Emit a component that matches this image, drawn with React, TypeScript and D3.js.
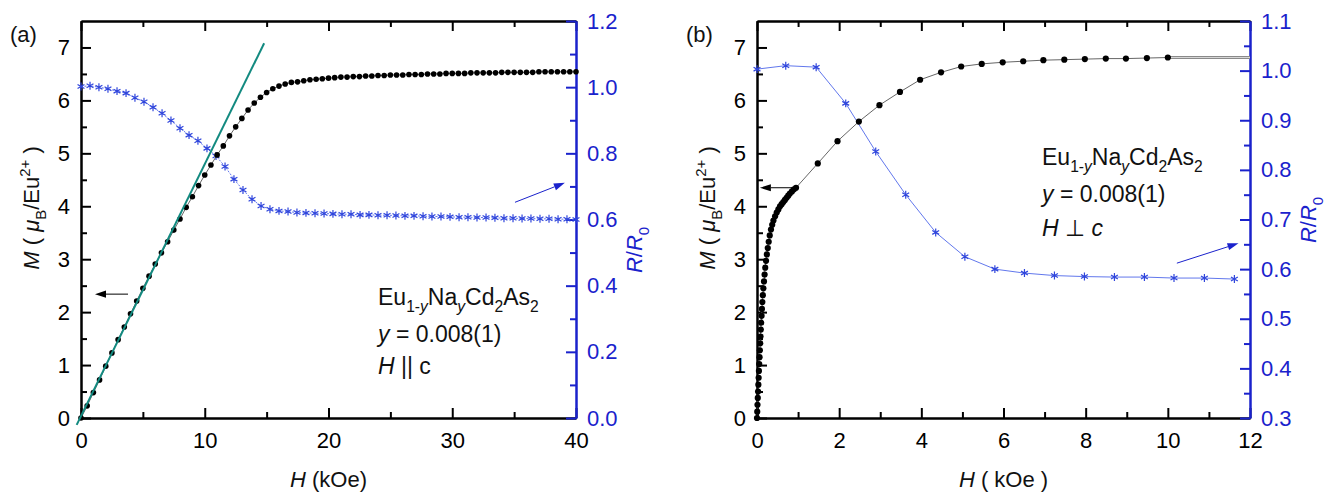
import * as d3 from "d3";
import { useEffect, useRef } from "react";

// ---- panel (a): H || c ----
const fieldA = [0, 0.5, 1, 1.5, 2, 2.5, 3, 3.5, 4, 4.5, 5, 5.5, 6, 6.5, 7, 7.5, 8, 8.5, 9, 9.5,
  10, 10.5, 11, 11.5, 12, 12.5, 13, 13.5, 14, 14.5, 15, 15.5, 16, 16.5, 17, 17.5, 18, 18.5, 19, 19.5,
  20, 20.5, 21, 21.5, 22, 22.5, 23, 23.5, 24, 24.5, 25, 25.5, 26, 26.5, 27, 27.5, 28, 28.5, 29, 29.5,
  30, 30.5, 31, 31.5, 32, 32.5, 33, 33.5, 34, 34.5, 35, 35.5, 36, 36.5, 37, 37.5, 38, 38.5, 39, 39.5, 40];
const momentA = [0.00, 0.23, 0.48, 0.72, 0.98, 1.23, 1.48, 1.72, 1.97, 2.21,
  2.45, 2.68, 2.91, 3.12, 3.33, 3.55, 3.76, 3.98, 4.18, 4.39,
  4.59, 4.78, 4.97, 5.14, 5.33, 5.50, 5.66, 5.82, 5.95, 6.06,
  6.15, 6.22, 6.27, 6.31, 6.34, 6.35, 6.37, 6.39, 6.40, 6.41,
  6.42, 6.43, 6.44, 6.44, 6.45, 6.45, 6.46, 6.46, 6.47, 6.47,
  6.48, 6.48, 6.48, 6.49, 6.49, 6.49, 6.50, 6.50, 6.50, 6.51,
  6.51, 6.51, 6.51, 6.52, 6.52, 6.52, 6.52, 6.52, 6.53, 6.53,
  6.53, 6.53, 6.53, 6.53, 6.54, 6.54, 6.54, 6.54, 6.54, 6.54, 6.54];
const resFieldA = [0, 0.73, 1.45, 2.18, 2.91, 3.64, 4.36, 5.09, 5.82, 6.55, 7.27, 8.0, 8.73, 9.45,
  10.18, 10.91, 11.64, 12.36, 13.09, 13.82, 14.55, 15.27, 16.0, 16.73, 17.45, 18.18, 18.91, 19.64,
  20.36, 21.09, 21.82, 22.55, 23.27, 24.0, 24.73, 25.45, 26.18, 26.91, 27.64, 28.36, 29.09, 29.82,
  30.55, 31.27, 32.0, 32.73, 33.45, 34.18, 34.91, 35.64, 36.36, 37.09, 37.82, 38.55, 39.27, 40.0];
const resA = [1.002, 1.004, 1.000, 0.995, 0.988, 0.982, 0.968, 0.956, 0.939, 0.921,
  0.899, 0.876, 0.855, 0.838, 0.815, 0.792, 0.760, 0.722, 0.689, 0.661,
  0.641, 0.631, 0.626, 0.624, 0.621, 0.620, 0.619, 0.618, 0.617, 0.616,
  0.616, 0.614, 0.614, 0.613, 0.613, 0.612, 0.611, 0.611, 0.610, 0.609,
  0.609, 0.608, 0.607, 0.607, 0.606, 0.606, 0.605, 0.604, 0.604, 0.603,
  0.603, 0.602, 0.602, 0.601, 0.601, 0.600];
// linear fit of the low field part
const fitH = [-0.35, 14.8];
const fitM = [-0.13, 7.08];

// ---- panel (b): H perp c ----
const fieldB = [0, 0.006, 0.012, 0.019, 0.026, 0.033, 0.04, 0.047, 0.054, 0.062, 0.07, 0.078, 0.086,
  0.094, 0.102, 0.111, 0.12, 0.13, 0.142, 0.155, 0.17, 0.185, 0.2, 0.22, 0.24, 0.262, 0.285, 0.31,
  0.34, 0.37, 0.4, 0.44, 0.48, 0.52, 0.56, 0.6, 0.64, 0.68, 0.72, 0.76, 0.8, 0.85, 0.9, 0.95,
  1.48, 1.96, 2.48, 2.98, 3.48, 3.97, 4.48, 4.97, 5.47, 5.98, 6.48, 6.97, 7.48, 7.98, 8.49, 8.98, 9.49, 10.0];
const momentB = [0, 0.12, 0.25, 0.38, 0.5, 0.63, 0.76, 0.89, 1.02, 1.15, 1.28, 1.41, 1.54,
  1.67, 1.8, 1.93, 2.06, 2.19, 2.32, 2.45, 2.58, 2.71, 2.84, 2.97, 3.09, 3.21, 3.33, 3.45,
  3.56, 3.65, 3.73, 3.81, 3.88, 3.94, 4.0, 4.04, 4.08, 4.12, 4.16, 4.2, 4.24, 4.28, 4.32, 4.35,
  4.81, 5.23, 5.6, 5.91, 6.16, 6.39, 6.53, 6.64, 6.69, 6.72, 6.74, 6.76, 6.77, 6.78, 6.79, 6.79, 6.8, 6.81];
const highFieldH = [10.0, 12.0];
const highFieldM = [6.81, 6.81];
const resFieldB = [0, 0.7, 1.44, 2.16, 2.89, 3.62, 4.35, 5.06, 5.79, 6.51, 7.24, 7.97, 8.7, 9.43, 10.15, 10.89, 11.62];
const resB = [1.003, 1.01, 1.007, 0.934, 0.837, 0.75, 0.674, 0.625, 0.6, 0.592, 0.587, 0.585, 0.584, 0.584, 0.582, 0.582, 0.58];

// ticks
const momentTicks = [0, 1, 2, 3, 4, 5, 6, 7];
const momentMinor = [0.5, 1.5, 2.5, 3.5, 4.5, 5.5, 6.5];
const fieldTicksA = [0, 10, 20, 30, 40];
const fieldMinorA = [5, 15, 25, 35];
const resTicksA = [0, 0.2, 0.4, 0.6, 0.8, 1.0, 1.2];
const resMinorA = [0.1, 0.3, 0.5, 0.7, 0.9, 1.1];
const fieldTicksB = [0, 2, 4, 6, 8, 10, 12];
const fieldMinorB = [1, 3, 5, 7, 9, 11];
const resTicksB = [0.3, 0.4, 0.5, 0.6, 0.7, 0.8, 0.9, 1.0, 1.1];
const resMinorB = [0.35, 0.45, 0.55, 0.65, 0.75, 0.85, 0.95, 1.05];

const FONT = "'Liberation Sans', Arial, sans-serif";
const BLUE = "#1a22cc";
const STAR = "#2f45dc";
const TEAL = "#138a80";
const TOP = 21;
const BOTTOM = 418;

type Part = [string, { i?: boolean; sub?: boolean; sup?: boolean }?];

function rich(g: any, x: number, y: number, parts: Part[], size: number, opts: any = {}) {
  const t = g.append("text")
    .attr("x", x).attr("y", y)
    .attr("font-family", FONT).attr("font-size", size)
    .attr("fill", opts.fill || "#111")
    .attr("text-anchor", opts.anchor || "start")
    .style("white-space", "pre");
  if (opts.transform) t.attr("transform", opts.transform);
  let shift = 0;
  parts.forEach(([s, o = {}]) => {
    const want = o.sub ? size * 0.3 : o.sup ? -size * 0.42 : 0;
    t.append("tspan")
      .attr("dy", want - shift)
      .attr("font-size", o.sub || o.sup ? size * 0.68 : size)
      .attr("font-style", o.i ? "italic" : "normal")
      .text(s);
    shift = want;
  });
  return t;
}

function arrow(g: any, x1: number, y1: number, x2: number, y2: number, color: string) {
  const a = Math.atan2(y2 - y1, x2 - x1);
  const L = 11, W = 3.6;
  const bx = x2 - L * Math.cos(a), by = y2 - L * Math.sin(a);
  g.append("line").attr("x1", x1).attr("y1", y1).attr("x2", bx).attr("y2", by)
    .attr("stroke", color).attr("stroke-width", 1);
  g.append("path")
    .attr("d", `M${x2},${y2}L${bx + W * Math.sin(a)},${by - W * Math.cos(a)}L${bx - W * Math.sin(a)},${by + W * Math.cos(a)}Z`)
    .attr("fill", color);
}

function styleAxis(sel: any, color: string) {
  sel.attr("font-family", FONT).attr("font-size", 22);
  sel.selectAll("path.domain").attr("stroke", color).attr("stroke-width", 2);
  sel.selectAll(".tick line").attr("stroke", color).attr("stroke-width", 2);
  sel.selectAll(".tick text").attr("fill", color);
}

function drawPanel(svg: any, cfg: any) {
  const g = svg.append("g");
  const x = d3.scaleLinear().domain(cfg.xDomain).range([cfg.x0, cfg.x1]);
  const y = d3.scaleLinear().domain([0, 7.5]).range([BOTTOM, TOP]);
  const r = d3.scaleLinear().domain(cfg.rDomain).range([BOTTOM, TOP]);
  const blank = () => "";

  // frame + axes
  g.append("g").attr("transform", `translate(0,${TOP})`)
    .call(d3.axisTop(x).tickValues(cfg.xMajor).tickSize(-10).tickSizeOuter(0).tickFormat(blank))
    .call((s: any) => styleAxis(s, "#000"));
  g.append("g").attr("transform", `translate(0,${TOP})`)
    .call(d3.axisTop(x).tickValues(cfg.xMinor).tickSize(-6).tickSizeOuter(0).tickFormat(blank))
    .call((s: any) => styleAxis(s, "#000"));
  g.append("g").attr("transform", `translate(0,${BOTTOM})`)
    .call(d3.axisBottom(x).tickValues(cfg.xMajor).tickSize(-10).tickSizeOuter(0).tickPadding(14).tickFormat(d3.format("d")))
    .call((s: any) => styleAxis(s, "#000"));
  g.append("g").attr("transform", `translate(0,${BOTTOM})`)
    .call(d3.axisBottom(x).tickValues(cfg.xMinor).tickSize(-6).tickSizeOuter(0).tickFormat(blank))
    .call((s: any) => styleAxis(s, "#000"));
  g.append("g").attr("transform", `translate(${cfg.x0},0)`)
    .call(d3.axisLeft(y).tickValues(momentTicks).tickSize(-10).tickSizeOuter(0).tickPadding(11).tickFormat(d3.format("d")))
    .call((s: any) => styleAxis(s, "#000"));
  g.append("g").attr("transform", `translate(${cfg.x0},0)`)
    .call(d3.axisLeft(y).tickValues(momentMinor).tickSize(-6).tickSizeOuter(0).tickFormat(blank))
    .call((s: any) => styleAxis(s, "#000"));
  g.append("g").attr("transform", `translate(${cfg.x1},0)`)
    .call(d3.axisRight(r).tickValues(cfg.rMajor).tickSize(-10).tickSizeOuter(0).tickPadding(11).tickFormat(d3.format(".1f")))
    .call((s: any) => styleAxis(s, BLUE));
  g.append("g").attr("transform", `translate(${cfg.x1},0)`)
    .call(d3.axisRight(r).tickValues(cfg.rMinor).tickSize(-6).tickSizeOuter(0).tickFormat(blank))
    .call((s: any) => styleAxis(s, BLUE));

  // resistance
  const rl = d3.line<number>().x((_, i) => x(cfg.rH[i])).y((d) => r(d));
  g.append("path").attr("d", rl(cfg.rV)).attr("fill", "none")
    .attr("stroke", "#4f68ea").attr("stroke-width", 0.9)
    .attr("stroke-dasharray", cfg.rDash || null);
  const star = d3.symbol().type((d3 as any).symbolAsterisk || d3.symbolCross).size(44);
  g.append("g").selectAll("path").data(cfg.rV).join("path")
    .attr("transform", (d: number, i: number) => `translate(${x(cfg.rH[i])},${r(d)})`)
    .attr("d", star as any).attr("fill", "none").attr("stroke", STAR).attr("stroke-width", 1.2);

  // magnetisation
  const ml = d3.line<number>().x((_, i) => x(cfg.mH[i])).y((d) => y(d));
  g.append("path").attr("d", ml(cfg.mV)).attr("fill", "none")
    .attr("stroke", "#555").attr("stroke-width", 0.9);
  if (cfg.extraH) {
    const el = d3.line<number>().x((_, i) => x(cfg.extraH[i])).y((d) => y(d));
    g.append("path").attr("d", el(cfg.extraM)).attr("fill", "none")
      .attr("stroke", "#8a8a8a").attr("stroke-width", 3);
    g.append("path").attr("d", el(cfg.extraM)).attr("fill", "none")
      .attr("stroke", "#d8d8d8").attr("stroke-width", 1);
  }
  g.append("g").selectAll("circle").data(cfg.mV).join("circle")
    .attr("cx", (_: number, i: number) => x(cfg.mH[i])).attr("cy", (d: number) => y(d))
    .attr("r", cfg.dotR).attr("fill", "#000");
  if (cfg.fitH) {
    g.append("line")
      .attr("x1", x(cfg.fitH[0])).attr("y1", y(cfg.fitM[0]))
      .attr("x2", x(cfg.fitH[1])).attr("y2", y(cfg.fitM[1]))
      .attr("stroke", TEAL).attr("stroke-width", 2);
  }

  // arrows
  const ma = cfg.mArrow;
  arrow(g, x(ma[0]), y(ma[2]), x(ma[1]), y(ma[2]), "#000");
  const ra = cfg.rArrow;
  arrow(g, x(ra[0]), r(ra[1]), x(ra[2]), r(ra[3]), BLUE);

  // labels
  rich(g, cfg.x0 - 71, 42, [[cfg.tag]], 22);
  rich(g, (cfg.x0 + cfg.x1) / 2, 487, cfg.xTitle, 22, { anchor: "middle" });
  rich(g, 0, 0, [["M", { i: true }], [" ( "], ["μ", { i: true }], ["B", { sub: true }], ["/Eu"], ["2+", { sup: true }], [" )"]], 22,
    { anchor: "middle", transform: `translate(${cfg.x0 - 42},208) rotate(-90)` });
  rich(g, 0, 0, [["R", { i: true }], ["/"], ["R", { i: true }], ["0", { sub: true }]], 22,
    { anchor: "middle", fill: BLUE, transform: `translate(${cfg.x1 + 66},${cfg.rTitleY}) rotate(-90)` });

  const lx = cfg.legendX, ly = cfg.legendY;
  rich(g, lx, ly[0], [["Eu"], ["1-", { sub: true }], ["y", { sub: true, i: true }], ["Na"], ["y", { sub: true, i: true }],
    ["Cd"], ["2", { sub: true }], ["As"], ["2", { sub: true }]], 23);
  rich(g, lx, ly[1], [["y", { i: true }], [" = 0.008(1)"]], 23);
  rich(g, lx, ly[2], cfg.legend3, 23);
}

export default function App() {
  const ref = useRef<SVGSVGElement>(null);
  useEffect(() => {
    const svg = d3.select(ref.current);
    svg.selectAll("*").remove();
    drawPanel(svg, {
      x0: 81, x1: 576, xDomain: [0, 40], xMajor: fieldTicksA, xMinor: fieldMinorA,
      rDomain: [0, 1.2], rMajor: resTicksA, rMinor: resMinorA,
      mH: fieldA, mV: momentA, rH: resFieldA, rV: resA, rDash: "2 1.5", dotR: 2.8,
      fitH, fitM,
      mArrow: [3.8, 1.13, 2.34], rArrow: [35.07, 0.652, 39.1, 0.711],
      tag: "(a)", xTitle: [["H", { i: true }], [" (kOe)"]], rTitleY: 250,
      legendX: 378, legendY: [305, 342, 374],
      legend3: [["H", { i: true }], [" || c"]],
    });
    drawPanel(svg, {
      x0: 757, x1: 1250, xDomain: [0, 12], xMajor: fieldTicksB, xMinor: fieldMinorB,
      rDomain: [0.3, 1.1], rMajor: resTicksB, rMinor: resMinorB,
      mH: fieldB, mV: momentB, rH: resFieldB, rV: resB, dotR: 3.1,
      extraH: highFieldH, extraM: highFieldM,
      mArrow: [0.92, 0.07, 4.35], rArrow: [10.22, 0.612, 11.72, 0.652],
      tag: "(b)", xTitle: [["H", { i: true }], [" ( kOe )"]], rTitleY: 220,
      legendX: 1042, legendY: [165, 202, 236],
      legend3: [["H", { i: true }], [" ⊥ "], ["c", { i: true }]],
    });
  }, []);
  return (
    <svg ref={ref} width={1340} height={496}
      style={{ position: "absolute", left: 0, top: 0, background: "#fff" }} />
  );
}
